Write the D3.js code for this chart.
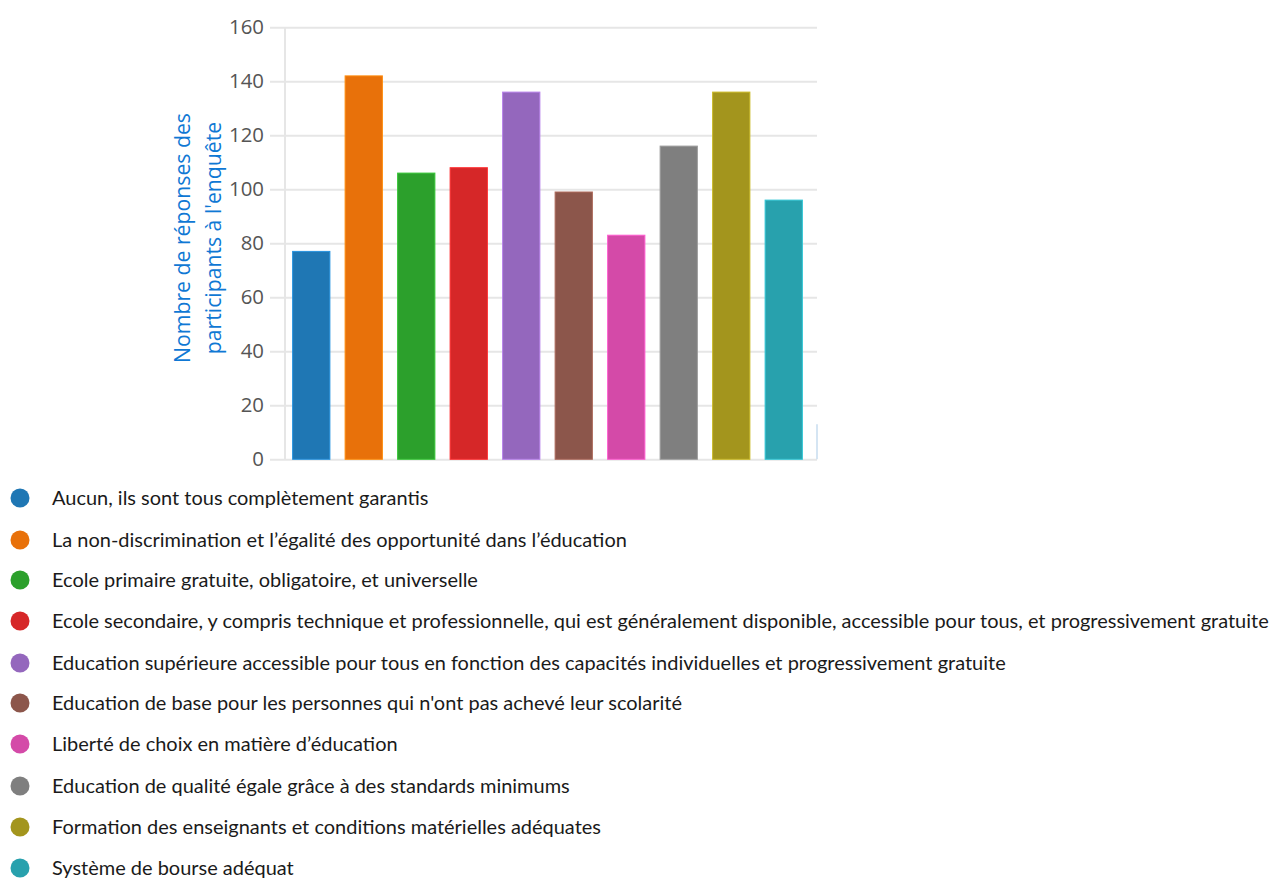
<!DOCTYPE html>
<html>
<head>
<meta charset="utf-8">
<script src="https://cdn.jsdelivr.net/npm/d3@7"></script>
<style>
  html, body { margin: 0; padding: 0; background: #fff; }
  svg { display: block; }
</style>
</head>
<body>
<svg id="chart" width="1275" height="878"></svg>
<script>
// Answer categories (legend order = bar order)
const categories = [
  "Aucun, ils sont tous complètement garantis",
  "La non-discrimination et l’égalité des opportunité dans l’éducation",
  "Ecole primaire gratuite, obligatoire, et universelle",
  "Ecole secondaire, y compris technique et professionnelle, qui est généralement disponible, accessible pour tous, et progressivement gratuite",
  "Education supérieure accessible pour tous en fonction des capacités individuelles et progressivement gratuite",
  "Education de base pour les personnes qui n'ont pas achevé leur scolarité",
  "Liberté de choix en matière d’éducation",
  "Education de qualité égale grâce à des standards minimums",
  "Formation des enseignants et conditions matérielles adéquates",
  "Système de bourse adéquat"
];
// Number of responses per category
const responses = [77, 142, 106, 108, 136, 99, 83, 116, 136, 96];
const barColors = ["#1f77b4", "#e8710a", "#2ca02c", "#d62728", "#9467bd",
                   "#8c564b", "#d44aa8", "#7f7f7f", "#a3951d", "#28a1ad"];
const yTicks = [0, 20, 40, 60, 80, 100, 120, 140, 160];
const yTitle = ["Nombre de réponses des", "participants à l'enquête"];

const svg = d3.select("#chart");
const chartFont = "'Open Sans', 'Noto Sans', sans-serif";
const legendFont = "Lato, 'Noto Sans', sans-serif";

// Plot frame
const plot = { left: 285, right: 817, top: 27.3, bottom: 459.3 };

const x = d3.scaleBand()
  .domain(d3.range(categories.length))
  .range([plot.left, plot.left + 525])
  .paddingInner(0.29)
  .paddingOuter(0.145);

const y = d3.scaleLinear()
  .domain([0, 160])
  .range([plot.bottom, plot.top]);

// Horizontal gridlines (they also act as ticks on the left)
const grid = svg.append("g")
  .attr("transform", `translate(${plot.left},0)`)
  .call(d3.axisLeft(y).tickValues(yTicks)
    .tickSize(-(plot.right - plot.left))
    .tickFormat(""));
grid.select(".domain").remove();
grid.selectAll(".tick line")
  .attr("x1", -15)
  .attr("stroke", "#e6e6e6")
  .attr("stroke-width", 2);

// Vertical axis line
svg.append("line")
  .attr("x1", plot.left).attr("x2", plot.left)
  .attr("y1", plot.top).attr("y2", plot.bottom)
  .attr("stroke", "#e6e6e6").attr("stroke-width", 2);

// Tick labels
const yAxis = svg.append("g")
  .attr("transform", `translate(${plot.left - 21},0)`)
  .call(d3.axisLeft(y).tickValues(yTicks).tickSize(0).tickPadding(0));
yAxis.select(".domain").remove();
yAxis.selectAll("text")
  .attr("font-family", chartFont)
  .attr("font-size", 17.5)
  .attr("fill", "#555");
// size tick labels so "160" spans about 35px
{
  const t = yAxis.selectAll("text").filter(d => d === 160).node();
  const w = t.getComputedTextLength();
  yAxis.selectAll("text").attr("font-size", 17.5 * 35 / w);
}

// Small vertical marker at the right edge of the plot
svg.append("line")
  .attr("x1", plot.right).attr("x2", plot.right)
  .attr("y1", y(13)).attr("y2", plot.bottom)
  .attr("stroke", "#c7dcef").attr("stroke-width", 1.5);

// Bars
svg.append("g").selectAll("rect")
  .data(responses)
  .join("rect")
  .attr("x", (d, i) => x(i))
  .attr("width", x.bandwidth())
  .attr("y", d => y(d))
  .attr("height", d => y(0) - y(d))
  .attr("fill", (d, i) => barColors[i])
  .attr("stroke", (d, i) => d3.color(barColors[i]).brighter(0.6))
  .attr("stroke-width", 1);

// Y axis title (two lines, rotated)
const titleG = svg.append("g")
  .attr("transform", "translate(197,238) rotate(-90)");
const titleText = titleG.selectAll("text")
  .data(yTitle)
  .join("text")
  .attr("x", 0)
  .attr("y", (d, i) => i * 31 - 7)
  .attr("text-anchor", "middle")
  .attr("font-family", chartFont)
  .attr("font-size", 17.5)
  .attr("fill", "#0f78d4")
  .text(d => d);
{
  const w = titleText.nodes()[0].getComputedTextLength();
  titleText.attr("font-size", 17.5 * 250 / w);
}

// Legend
const legendRows = [498, 540, 580, 621, 663, 703, 744, 786, 827, 868];
const legend = svg.append("g");
const items = legend.selectAll("g")
  .data(categories)
  .join("g")
  .attr("transform", (d, i) => `translate(0,${legendRows[i]})`);
items.append("circle")
  .attr("cx", 20).attr("cy", 0).attr("r", 9.5)
  .attr("fill", (d, i) => barColors[i]);
const labels = items.append("text")
  .attr("x", 52)
  .attr("y", 0)
  .attr("dy", "0.35em")
  .attr("font-family", legendFont)
  .attr("font-size", 17)
  .attr("fill", "#1a1a1a")
  .text(d => d);

// Fit legend font so the longest label spans to the right edge
let maxW = 0;
labels.each(function () { maxW = Math.max(maxW, this.getComputedTextLength()); });
const fs = 17 * (1217 / maxW);
labels.attr("font-size", fs);
</script>
</body>
</html>
